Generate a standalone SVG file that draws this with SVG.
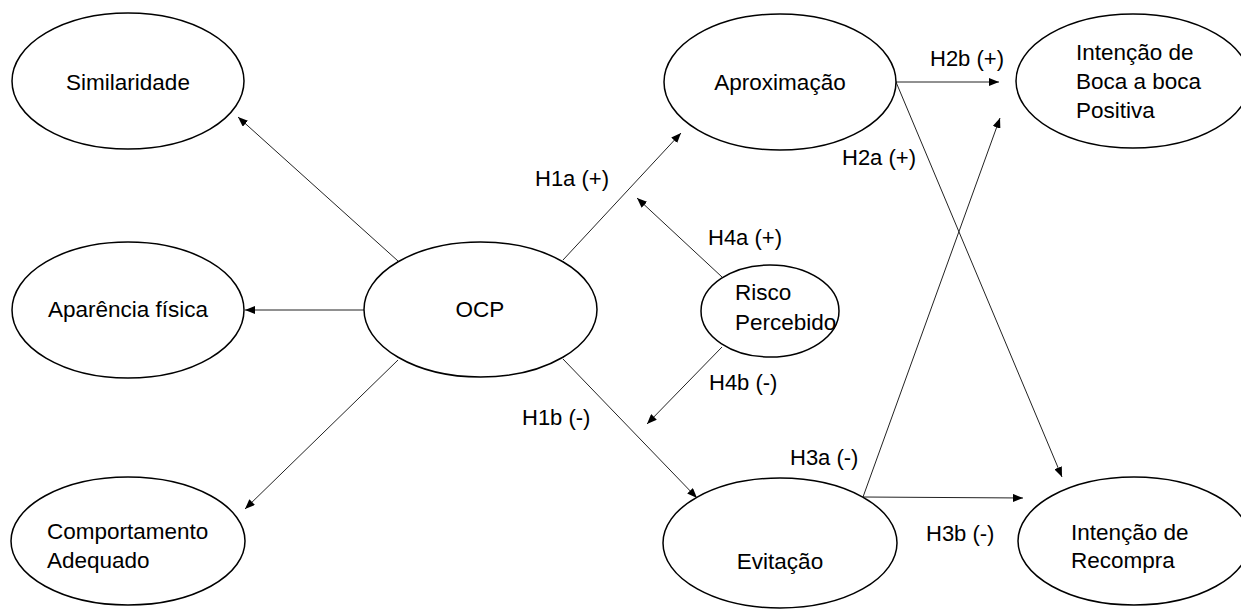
<svg xmlns="http://www.w3.org/2000/svg" width="1241" height="610" viewBox="0 0 1241 610">
<defs>
<style>
.node ellipse{fill:#fff;stroke:#000;stroke-width:1.5}
.t{font-family:"Liberation Sans",Arial,sans-serif;font-size:22.5px;fill:#000}
.m{text-anchor:middle}
.lbl{font-family:"Liberation Sans",Arial,sans-serif;font-size:22px;fill:#000}
.conn line{stroke:#222;stroke-width:1;marker-end:url(#ah)}
</style>
<marker id="ah" viewBox="0 0 10 8" refX="10" refY="4" markerWidth="10" markerHeight="8" markerUnits="userSpaceOnUse" orient="auto">
<path d="M0,0 L10,4 L0,8 z" fill="#000"/>
</marker>
</defs>
<rect width="1241" height="610" fill="#fff"/>
<g id="connectors" class="conn">
<line x1="398" y1="261" x2="238" y2="117"/>
<line x1="364" y1="310" x2="245" y2="310"/>
<line x1="398" y1="360" x2="245" y2="509"/>
<line x1="563" y1="260" x2="681" y2="133"/>
<line x1="563" y1="359" x2="697" y2="498"/>
<line x1="722" y1="277" x2="637" y2="198"/>
<line x1="722" y1="347" x2="647" y2="424"/>
<line x1="896" y1="82" x2="999" y2="82"/>
<line x1="896" y1="82" x2="1062" y2="477"/>
<line x1="863" y1="497" x2="1000" y2="118"/>
<line x1="863" y1="497" x2="1023" y2="498"/>
</g>
<g id="labels">
<text class="lbl" x="535" y="186">H1a (+)</text>
<text class="lbl" x="522" y="425">H1b (-)</text>
<text class="lbl" x="708" y="245">H4a (+)</text>
<text class="lbl" x="709" y="390">H4b (-)</text>
<text class="lbl" x="930" y="66">H2b (+)</text>
<text class="lbl" x="842" y="165">H2a (+)</text>
<text class="lbl" x="790" y="465">H3a (-)</text>
<text class="lbl" x="926" y="541">H3b (-)</text>
</g>
<g id="similaridade" class="node">
<ellipse cx="128" cy="81" rx="116" ry="68"/>
<text class="t m" x="128" y="90">Similaridade</text>
</g>
<g id="aparencia" class="node">
<ellipse cx="128" cy="310" rx="116" ry="68"/>
<text class="t m" x="128" y="317">Aparência física</text>
</g>
<g id="comportamento" class="node">
<ellipse cx="128" cy="541" rx="117" ry="64"/>
<text class="t" x="47" y="539">Comportamento</text>
<text class="t" x="47" y="568">Adequado</text>
</g>
<g id="ocp" class="node">
<ellipse cx="480.5" cy="309.5" rx="116.5" ry="67.5"/>
<text class="t m" x="480" y="317">OCP</text>
</g>
<g id="risco" class="node">
<ellipse cx="770" cy="311" rx="69" ry="46"/>
<text class="t" x="735" y="300">Risco</text>
<text class="t" x="735" y="330">Percebido</text>
</g>
<g id="aproximacao" class="node">
<ellipse cx="780" cy="82" rx="116" ry="68"/>
<text class="t m" x="780" y="90">Aproximação</text>
</g>
<g id="evitacao" class="node">
<ellipse cx="780" cy="543" rx="117" ry="65"/>
<text class="t m" x="780" y="569">Evitação</text>
</g>
<g id="boca" class="node">
<ellipse cx="1133" cy="81" rx="117" ry="67"/>
<text class="t" x="1076" y="60">Intenção de</text>
<text class="t" x="1076" y="89">Boca a boca</text>
<text class="t" x="1076" y="118">Positiva</text>
</g>
<g id="recompra" class="node">
<ellipse cx="1134" cy="541" rx="116" ry="64"/>
<text class="t" x="1071" y="540">Intenção de</text>
<text class="t" x="1071" y="568">Recompra</text>
</g>
</svg>
